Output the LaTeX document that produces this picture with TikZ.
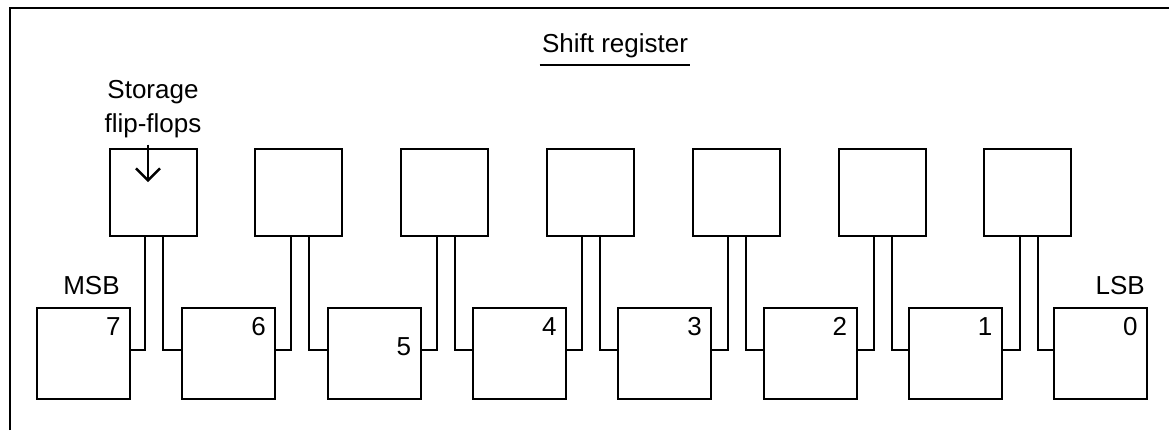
\documentclass[tikz,border=0pt]{standalone}
\usepackage{fontspec}
\setmainfont{Liberation Sans}
\usepackage{tikz}
\usetikzlibrary{arrows.meta, positioning}

\begin{document}
\begin{tikzpicture}[
  x=0.5pt, y=0.5pt,
  regbox/.style={draw, line width=1pt, minimum width=46.5pt, minimum height=45.5pt, inner sep=0pt, outer sep=0pt},
  ffbox/.style={draw, line width=1pt, minimum width=43.5pt, minimum height=43.5pt, inner sep=0pt, outer sep=0pt},
  wire/.style={line width=1pt},
  arr/.style={-{Straight Barb[length=6pt, width=12pt]}, line width=1.2pt},
  txt/.style={font=\fontsize{13}{17}\selectfont},
  num/.style={txt, anchor=north east, inner sep=4.5pt},
  lbl/.style={txt, inner sep=1pt}
]
\useasboundingbox (0,0) rectangle (1169,430);
% frame
\draw[line width=1.2pt] (10,0) -- (10,422) -- (1169,422);

% title
\node[txt, inner xsep=1pt, inner ysep=3.2pt] (title) at (615,384) {Shift register};
\draw[line width=0.9pt] (title.south west) -- (title.south east);

% register stages, MSB on the left
\node[regbox] (r7) at (83.5,76.5) {};
\node[regbox, right=26.15pt of r7] (r6) {};
\node[regbox, right=26.15pt of r6] (r5) {};
\node[regbox, right=26.15pt of r5] (r4) {};
\node[regbox, right=26.15pt of r4] (r3) {};
\node[regbox, right=26.15pt of r3] (r2) {};
\node[regbox, right=26.15pt of r2] (r1) {};
\node[regbox, right=26.15pt of r1] (r0) {};

\node[num] (n7) at (r7.north east) {7};
\node[num] (n6) at (r6.north east) {6};
\node[num, yshift=-10pt] (n5) at (r5.north east) {5};
\node[num] (n4) at (r4.north east) {4};
\node[num] (n3) at (r3.north east) {3};
\node[num] (n2) at (r2.north east) {2};
\node[num] (n1) at (r1.north east) {1};
\node[num] (n0) at (r0.north east) {0};

\node[lbl, above=5.5pt of r7, xshift=4pt] (msb) {MSB};
\node[lbl, anchor=south east] (lsb) at ([yshift=5.5pt]r0.north east) {LSB};

% storage flip-flops
\node[ffbox] (ff1) at (153,238) {};
\node[ffbox, right=29.4pt of ff1] (ff2) {};
\node[ffbox, right=29.4pt of ff2] (ff3) {};
\node[ffbox, right=29.4pt of ff3] (ff4) {};
\node[ffbox, right=29.4pt of ff4] (ff5) {};
\node[ffbox, right=29.4pt of ff5] (ff6) {};
\node[ffbox, right=29.4pt of ff6] (ff7) {};

\node[lbl, align=center, above=4pt of ff1] (store) {Storage\\flip-flops};
\draw[arr] ([xshift=-2.5pt, yshift=-2pt]store.south) -- ([xshift=-2.5pt, yshift=-16.75pt]ff1.north);

% wires between stages
\draw[wire] ([xshift=-4pt]ff1.south) |- ([yshift=2pt]r7.east);
\draw[wire] ([xshift=5pt]ff1.south) |- ([yshift=2pt]r6.west);
\draw[wire] ([xshift=-4pt]ff2.south) |- ([yshift=2pt]r6.east);
\draw[wire] ([xshift=5pt]ff2.south) |- ([yshift=2pt]r5.west);
\draw[wire] ([xshift=-4pt]ff3.south) |- ([yshift=2pt]r5.east);
\draw[wire] ([xshift=5pt]ff3.south) |- ([yshift=2pt]r4.west);
\draw[wire] ([xshift=-4pt]ff4.south) |- ([yshift=2pt]r4.east);
\draw[wire] ([xshift=5pt]ff4.south) |- ([yshift=2pt]r3.west);
\draw[wire] ([xshift=-4pt]ff5.south) |- ([yshift=2pt]r3.east);
\draw[wire] ([xshift=5pt]ff5.south) |- ([yshift=2pt]r2.west);
\draw[wire] ([xshift=-4pt]ff6.south) |- ([yshift=2pt]r2.east);
\draw[wire] ([xshift=5pt]ff6.south) |- ([yshift=2pt]r1.west);
\draw[wire] ([xshift=-4pt]ff7.south) |- ([yshift=2pt]r1.east);
\draw[wire] ([xshift=5pt]ff7.south) |- ([yshift=2pt]r0.west);
\end{tikzpicture}
\end{document}
